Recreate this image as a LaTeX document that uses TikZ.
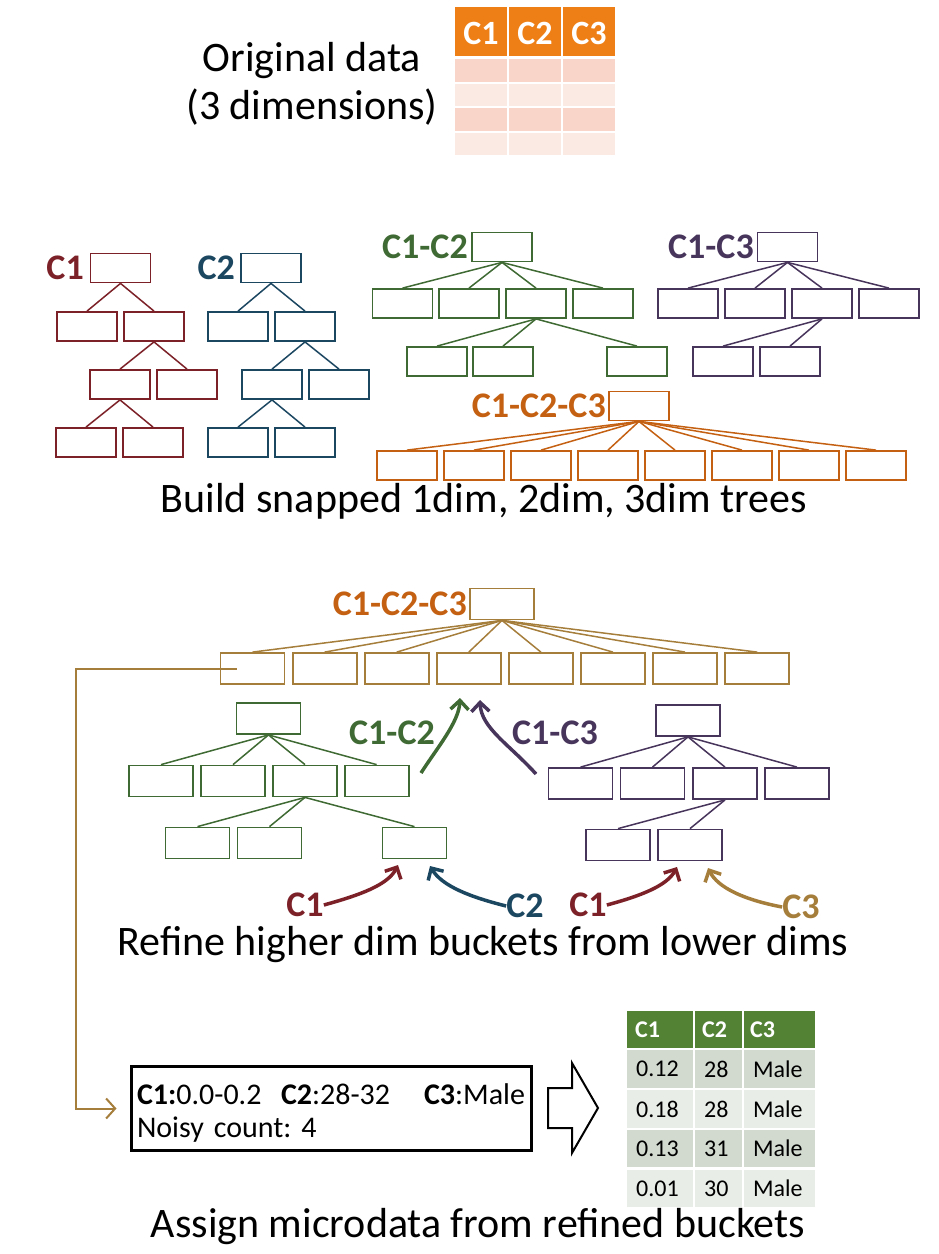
\documentclass[tikz,border=0pt]{standalone}
\usepackage{fontspec}
\setmainfont{Carlito}
\frenchspacing
\usetikzlibrary{arrows.meta,calc}
\definecolor{cred}{RGB}{124,33,40}
\definecolor{cblue}{RGB}{28,71,97}
\definecolor{cgreen}{RGB}{63,106,51}
\definecolor{cpurple}{RGB}{72,53,92}
\definecolor{corange}{RGB}{196,96,17}
\definecolor{cgold}{RGB}{166,126,60}
\definecolor{thead}{RGB}{238,127,22}
\definecolor{trowa}{RGB}{248,213,200}
\definecolor{trowb}{RGB}{251,233,227}
\definecolor{ghead}{RGB}{84,130,53}
\definecolor{growa}{RGB}{210,218,208}
\definecolor{growb}{RGB}{232,237,231}
\tikzset{
  bx/.style={draw, line width=1.8pt, minimum width=60pt, minimum height=29pt, inner sep=0pt},
  mbx/.style={bx, minimum width=64pt, minimum height=31pt},
  ed/.style={line width=1.5pt},
  lbl/.style={font=\fontsize{36}{40}\selectfont\bfseries, inner sep=0pt},
  captxt/.style={font=\fontsize{42}{48}\selectfont, inner sep=0pt},
  bigarr/.style={line width=3.5pt, -{Straight Barb[length=9pt,width=18pt]}},
  feed/.style={line width=2pt, cgold, -{Straight Barb[length=9pt,width=20pt]}},
  tabtxt/.style={font=\fontsize{24}{28}\selectfont, inner sep=0pt, anchor=west},
}
\begin{document}
\begin{tikzpicture}[x=1pt,y=-1pt]
\useasboundingbox (0,0) rectangle (938,1254);

% ---------- original data ----------
\node[captxt, anchor=base] (od1) at (312,71) {Original data};
\node[captxt, anchor=base] (od2) at (312,119) {(3 dimensions)};
\fill[thead] (455,7) rectangle (507,56);
\fill[thead] (509,7) rectangle (561,56);
\fill[thead] (563,7) rectangle (615,56);
\foreach \ya/\yb/\c in {59/82/trowa,84/106/trowb,108/131/trowa,133/155/trowb}{
  \fill[\c] (455,\ya) rectangle (507,\yb);
  \fill[\c] (509,\ya) rectangle (561,\yb);
  \fill[\c] (563,\ya) rectangle (615,\yb);
}
\node[font=\fontsize{34}{38}\selectfont\bfseries, text=white, inner sep=0pt] (oh1) at (481,33) {C1};
\node[font=\fontsize{34}{38}\selectfont\bfseries, text=white, inner sep=0pt] (oh2) at (535,33) {C2};
\node[font=\fontsize{34}{38}\selectfont\bfseries, text=white, inner sep=0pt] (oh3) at (589,33) {C3};

% ---------- C1 tree ----------
\node[lbl, text=cred, anchor=east] (lr) at (84,268) {C1};
\node[bx, cred] (r0) at (120.5,268) {};
\node[bx, cred] (r1) at (87,326.5) {};
\node[bx, cred] (r2) at (154,326.5) {};
\node[bx, cred] (r3) at (120,384.5) {};
\node[bx, cred] (r4) at (187,384.5) {};
\node[bx, cred] (r5) at (86,442.5) {};
\node[bx, cred] (r6) at (153,442.5) {};
\foreach \a/\b in {r0/r1,r0/r2,r2/r3,r2/r4,r3/r5,r3/r6} \draw[ed, cred] (\a.south) -- (\b.north);

% ---------- C2 tree ----------
\node[lbl, text=cblue, anchor=east] (lb) at (235,268) {C2};
\node[bx, cblue] (b0) at (271,268) {};
\node[bx, cblue] (b1) at (238,326.5) {};
\node[bx, cblue] (b2) at (305,326.5) {};
\node[bx, cblue] (b3) at (272,384.5) {};
\node[bx, cblue] (b4) at (339,384.5) {};
\node[bx, cblue] (b5) at (238,442.5) {};
\node[bx, cblue] (b6) at (305,442.5) {};
\foreach \a/\b in {b0/b1,b0/b2,b2/b3,b2/b4,b3/b5,b3/b6} \draw[ed, cblue] (\a.south) -- (\b.north);

% ---------- C1-C2 tree ----------
\node[lbl, text=cgreen, anchor=east] (lg) at (468,247) {C1-C2};
\node[bx, cgreen] (g0) at (502,247) {};
\foreach \i/\x in {1/402.5,2/469,3/536,4/603} \node[bx, cgreen] (g\i) at (\x,303.5) {};
\foreach \i/\x in {5/437,6/503,7/637} \node[bx, cgreen] (g\i) at (\x,361.5) {};
\foreach \i in {1,...,4} \draw[ed, cgreen] (g0.south) -- (g\i.north);
\foreach \i in {5,6,7} \draw[ed, cgreen] (g3.south) -- (g\i.north);

% ---------- C1-C3 tree ----------
\node[lbl, text=cpurple, anchor=east] (lp) at (754,247) {C1-C3};
\node[bx, cpurple] (q0) at (787.5,247) {};
\foreach \i/\x in {1/688,2/755,3/822,4/889} \node[bx, cpurple] (q\i) at (\x,303.5) {};
\foreach \i/\x in {5/723,6/790} \node[bx, cpurple] (q\i) at (\x,361.5) {};
\foreach \i in {1,...,4} \draw[ed, cpurple] (q0.south) -- (q\i.north);
\foreach \i in {5,6} \draw[ed, cpurple] (q3.south) -- (q\i.north);

% ---------- C1-C2-C3 tree ----------
\node[lbl, text=corange, anchor=east] (lo) at (606,406) {C1-C2-C3};
\node[bx, corange] (o0) at (639,406) {};
\foreach \i in {1,...,8} \node[bx, corange] (o\i) at ({407+67*(\i-1)},465.5) {};
\foreach \i in {1,...,8} \draw[ed, corange] (o0.south) -- (o\i.north);

\node[captxt] (cap1) at (484,501) {Build snapped 1dim, 2dim, 3dim trees};

% ---------- refine section ----------
\node[lbl, text=corange, anchor=east] (lm) at (467,604) {C1-C2-C3};
\node[mbx, cgold] (m0) at (502,604) {};
\foreach \i in {1,...,8} \node[mbx, cgold] (m\i) at ({252.5+72.1*(\i-1)},668.5) {};
\foreach \i in {1,...,8} \draw[ed, cgold] (m0.south) -- (m\i.north);

\node[mbx, cgreen] (n0) at (268.5,718.5) {};
\foreach \i/\x in {1/161,2/233,3/305,4/376.6} \node[mbx, cgreen] (n\i) at (\x,781) {};
\foreach \i/\x in {5/197.5,6/269.5,7/414.5} \node[mbx, cgreen] (n\i) at (\x,843) {};
\foreach \i in {1,...,4} \draw[ed, cgreen] (n0.south) -- (n\i.north);
\foreach \i in {5,6,7} \draw[ed, cgreen] (n3.south) -- (n\i.north);

\node[mbx, cpurple] (p0) at (688,720.5) {};
\foreach \i/\x in {1/580.5,2/652.5,3/725,4/797} \node[mbx, cpurple] (p\i) at (\x,783.5) {};
\foreach \i/\x in {5/618,6/690} \node[mbx, cpurple] (p\i) at (\x,845) {};
\foreach \i in {1,...,4} \draw[ed, cpurple] (p0.south) -- (p\i.north);
\foreach \i in {5,6} \draw[ed, cpurple] (p3.south) -- (p\i.north);

\node[lbl, text=cgreen] (la12) at (392,733) {C1-C2};
\node[lbl, text=cpurple] (la13) at (555,733) {C1-C3};
\coordinate (ga1) at (421,773);
\coordinate (ga2) at (460,698);
\coordinate (pa1) at (536,774);
\coordinate (pa2) at (480,700);
\draw[bigarr, cgreen] (ga1) .. controls (437,748) and (459,722) .. (ga2);
\draw[bigarr, cpurple] (pa1) .. controls (510,745) and (481,728) .. (pa2);

\node[lbl, text=cred] (x1) at (305,905) {C1};
\node[lbl, text=cblue] (x2) at (525,906) {C2};
\node[lbl, text=cred] (x3) at (588,905) {C1};
\node[lbl, text=cgold] (x4) at (801,907) {C3};
\coordinate (t1) at (398,865);
\coordinate (t2) at (430,866);
\coordinate (t3) at (677,867);
\coordinate (t4) at (708,868);
\draw[bigarr, cred] (x1.east) .. controls (360,895) and (388,885) .. (t1);
\draw[bigarr, cblue] (x2.west) .. controls (470,897) and (442,886) .. (t2);
\draw[bigarr, cred] (x3.east) .. controls (640,896) and (667,886) .. (t3);
\draw[bigarr, cgold] (x4.west) .. controls (745,900) and (718,888) .. (t4);

\node[captxt] (cap2) at (483,945) {Refine higher dim buckets from lower dims};

% ---------- assign section ----------
\node[draw, line width=3pt, minimum width=400pt, minimum height=84pt, inner sep=0pt] (bucket) at (331,1108.5) {};
\node[text width=388pt, inner sep=0pt, align=left, font=\fontsize{30}{33}\selectfont]
  (buckettxt) at ([yshift=-4pt]bucket.center)
  {\makebox[144pt][l]{\textbf{C1:}0.0-0.2}\makebox[143pt][l]{\textbf{C2}:28-32}\textbf{C3}:Male\\Noisy count: 4};

\coordinate (fs) at ($(m1.center)+(-16,0)$);
\coordinate (fb) at (76,668.5);
\draw[feed] (fs) -- (fb) |- ([xshift=-13pt]bucket.west);

\draw[line width=2pt, fill=white] (548,1088) -- (572,1088) -- (572,1063) -- (598,1108)
  -- (572,1153) -- (572,1128) -- (548,1128) -- cycle;

\fill[ghead] (627,1011) rectangle (693,1048);
\fill[ghead] (695,1011) rectangle (742,1048);
\fill[ghead] (744,1011) rectangle (815,1048);
\foreach \ya/\yb/\c in {1050/1088/growa,1090/1128/growb,1130/1167/growa,1170/1207/growb}{
  \fill[\c] (627,\ya) rectangle (693,\yb);
  \fill[\c] (695,\ya) rectangle (742,\yb);
  \fill[\c] (744,\ya) rectangle (815,\yb);
}
\node[tabtxt, text=white, font=\fontsize{24}{28}\selectfont\bfseries] (th1) at (635,1029.5) {C1};
\node[tabtxt, text=white, font=\fontsize{24}{28}\selectfont\bfseries] (th2) at (702,1029.5) {C2};
\node[tabtxt, text=white, font=\fontsize{24}{28}\selectfont\bfseries] (th3) at (750,1029.5) {C3};
\foreach \y/\a/\b [count=\k] in {1069/0.12/28,1109/0.18/28,1148.5/0.13/31,1188.5/0.01/30}{
  \node[tabtxt] (ta\k) at (636,\y) {\a};
  \node[tabtxt] (tb\k) at (704,\y) {\b};
  \node[tabtxt] (tc\k) at (753,\y) {Male};
}

\node[captxt] (cap3) at (478,1227) {Assign microdata from refined buckets};
\end{tikzpicture}
\end{document}
